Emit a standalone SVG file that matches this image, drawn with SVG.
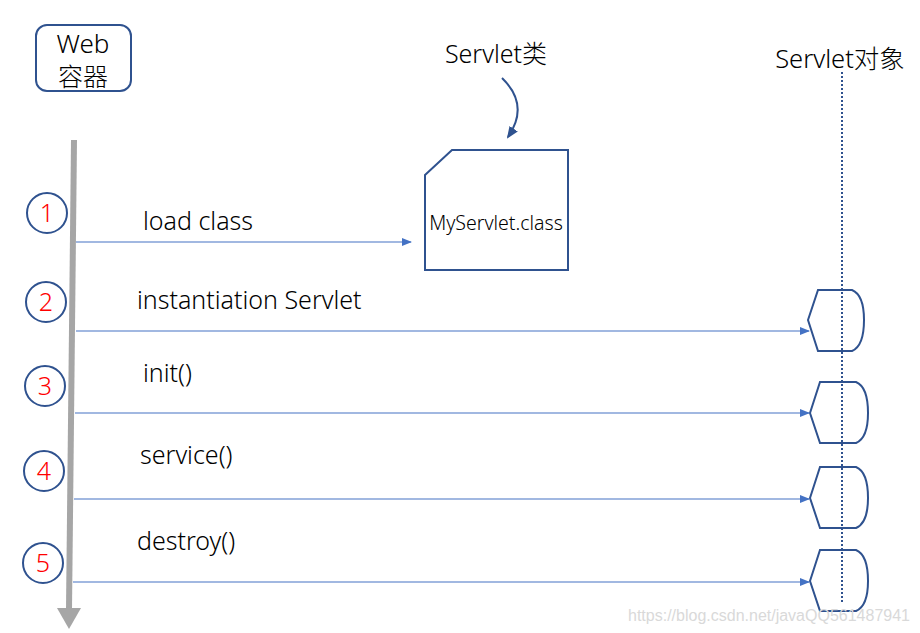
<svg xmlns="http://www.w3.org/2000/svg" width="920" height="633" viewBox="0 0 920 633">
<defs>
<marker id="ah" markerWidth="10" markerHeight="8" refX="9" refY="4" orient="auto" markerUnits="userSpaceOnUse">
<path d="M0,0 L10,4 L0,8 Z" fill="#4472C4"/>
</marker>
<marker id="ah2" markerWidth="12" markerHeight="10" refX="10" refY="5" orient="auto" markerUnits="userSpaceOnUse">
<path d="M0,0 L12,5 L0,10 Z" fill="#2F528F"/>
</marker>
</defs>
<style>
.t{font-family:"Noto Sans","Noto Sans CJK SC",sans-serif;fill:#000;font-weight:300}
.lbl{font-family:"Noto Sans","Noto Sans CJK SC",sans-serif;font-size:25px;fill:#000;font-weight:300}
.num{font-family:"Noto Sans",sans-serif;font-size:25px;fill:#FF0000;text-anchor:middle;font-weight:300}
.circ{fill:#fff;stroke:#2F528F;stroke-width:2}
.obj{fill:#fff;stroke:#2F528F;stroke-width:2}
.conn{stroke:#4472C4;stroke-width:1.2;fill:none}
</style>
<rect width="920" height="633" fill="#fff"/>
<g id="web">
<rect x="36" y="25" width="95" height="66" rx="11" fill="#fff" stroke="#2F528F" stroke-width="2"/>
<text class="t" x="83" y="53" font-size="26" text-anchor="middle">Web</text>
<text class="t" x="83" y="86" font-size="25" text-anchor="middle">容器</text>
</g>
<g id="timeline">
<path d="M71,140 L77,140 L72,610 L66,610 Z" fill="#A6A6A6"/>
<path d="M57,608 L81,608 L69,629 Z" fill="#A6A6A6"/>
</g>
<g id="classlabel">
<text class="t" x="496" y="63" font-size="25" text-anchor="middle">Servlet类</text>
</g>
<g id="classfile">
<path d="M425,175 L452,150 L568,150 L568,270 L425,270 Z" fill="#fff" stroke="#2F528F" stroke-width="2"/>
<text class="lbl" x="496" y="230" style="font-size:19.5px" text-anchor="middle">MyServlet.class</text>
</g>
<g id="steps">
<circle class="circ" cx="47" cy="213" r="20"/><text class="num" x="47" y="222">1</text>
<circle class="circ" cx="46" cy="302" r="20"/><text class="num" x="46" y="311">2</text>
<circle class="circ" cx="45" cy="386" r="20"/><text class="num" x="45" y="395">3</text>
<circle class="circ" cx="44" cy="471" r="20"/><text class="num" x="44" y="480">4</text>
<circle class="circ" cx="43" cy="563" r="20"/><text class="num" x="43" y="572">5</text>
</g>
<g id="objects">
<path class="obj" d="M808,320 L818,290 L852,290 Q864,295 864,320 Q864,346 852,351 L818,351 Z"/>
<path class="obj" d="M810,413 L820,382 L856,382 Q868,387 868,413 Q868,438 856,443 L820,443 Z"/>
<path class="obj" d="M810,498 L820,467 L856,467 Q868,472 868,498 Q868,523 856,528 L820,528 Z"/>
<path class="obj" d="M810,581 L820,550 L856,550 Q868,555 868,581 Q868,606 856,611 L820,611 Z"/>
</g>
<g id="lifeline">
<line x1="842" y1="72" x2="842" y2="602" stroke="#2F528F" stroke-width="2" stroke-dasharray="2,2"/>
<text class="t" x="840" y="68" font-size="25.5" text-anchor="middle">Servlet对象</text>
</g>
<g id="connectors">
<line class="conn" x1="76" y1="242" x2="411" y2="242" marker-end="url(#ah)"/>
<line class="conn" x1="76" y1="331" x2="809" y2="331" marker-end="url(#ah)"/>
<line class="conn" x1="75" y1="413" x2="809" y2="413" marker-end="url(#ah)"/>
<line class="conn" x1="74" y1="499" x2="809" y2="499" marker-end="url(#ah)"/>
<line class="conn" x1="73" y1="582" x2="809" y2="582" marker-end="url(#ah)"/>
<path d="M502,78 Q530,105 508,137" fill="none" stroke="#2F528F" stroke-width="2" marker-end="url(#ah2)"/>
</g>
<g id="labels">
<text class="lbl" x="143" y="230">load class</text>
<text class="lbl" x="137" y="309">instantiation Servlet</text>
<text class="lbl" x="143" y="382">init()</text>
<text class="lbl" x="140" y="464">service()</text>
<text class="lbl" x="137" y="550">destroy()</text>
</g>
<text x="910" y="621" font-family="Liberation Sans,sans-serif" font-size="16" fill="#D9D9D9" text-anchor="end">https://blog.csdn.net/javaQQ561487941</text>
</svg>
